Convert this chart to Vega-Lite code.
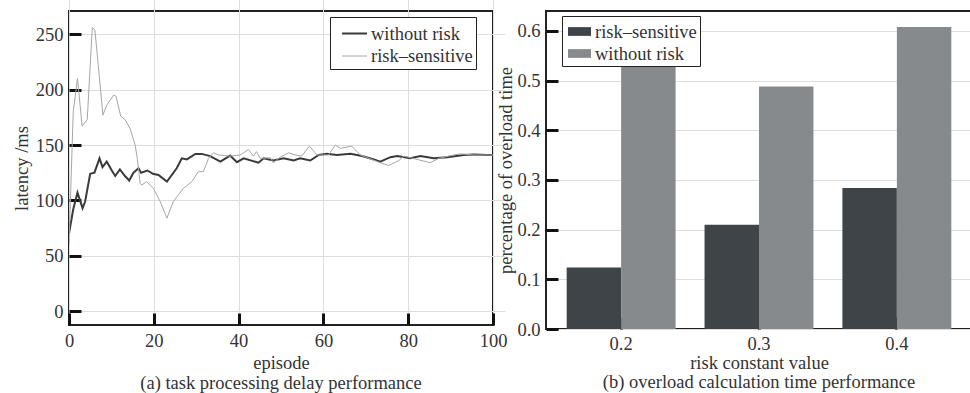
{
  "$schema": "https://vega.github.io/schema/vega-lite/v6.json",
  "padding": {"left": 11, "top": 10, "right": 0, "bottom": 0},
  "background": "white",
  "spacing": -13,
  "datasets": {
    "lines": [
      {"episode": 0, "latency": 70, "series": "without risk"},
      {"episode": 1, "latency": 92, "series": "without risk"},
      {"episode": 2, "latency": 107, "series": "without risk"},
      {"episode": 3.2, "latency": 93, "series": "without risk"},
      {"episode": 3.8, "latency": 99, "series": "without risk"},
      {"episode": 5, "latency": 124, "series": "without risk"},
      {"episode": 6, "latency": 125, "series": "without risk"},
      {"episode": 7.2, "latency": 138, "series": "without risk"},
      {"episode": 7.9, "latency": 130, "series": "without risk"},
      {"episode": 8.9, "latency": 135, "series": "without risk"},
      {"episode": 10.1, "latency": 127, "series": "without risk"},
      {"episode": 10.9, "latency": 122, "series": "without risk"},
      {"episode": 12, "latency": 128, "series": "without risk"},
      {"episode": 13.2, "latency": 122, "series": "without risk"},
      {"episode": 14.2, "latency": 118, "series": "without risk"},
      {"episode": 15.2, "latency": 125, "series": "without risk"},
      {"episode": 16.4, "latency": 129, "series": "without risk"},
      {"episode": 17, "latency": 125, "series": "without risk"},
      {"episode": 18.5, "latency": 127, "series": "without risk"},
      {"episode": 19.8, "latency": 124, "series": "without risk"},
      {"episode": 21.1, "latency": 123, "series": "without risk"},
      {"episode": 23.1, "latency": 117, "series": "without risk"},
      {"episode": 25.4, "latency": 129, "series": "without risk"},
      {"episode": 26.6, "latency": 138, "series": "without risk"},
      {"episode": 27.8, "latency": 137, "series": "without risk"},
      {"episode": 29.8, "latency": 142, "series": "without risk"},
      {"episode": 31.3, "latency": 142, "series": "without risk"},
      {"episode": 33.3, "latency": 140, "series": "without risk"},
      {"episode": 35.7, "latency": 135, "series": "without risk"},
      {"episode": 38, "latency": 140.5, "series": "without risk"},
      {"episode": 39.6, "latency": 134.5, "series": "without risk"},
      {"episode": 41.2, "latency": 138, "series": "without risk"},
      {"episode": 44.7, "latency": 134, "series": "without risk"},
      {"episode": 45.9, "latency": 138, "series": "without risk"},
      {"episode": 48.2, "latency": 136, "series": "without risk"},
      {"episode": 50.6, "latency": 138, "series": "without risk"},
      {"episode": 53, "latency": 136, "series": "without risk"},
      {"episode": 54.5, "latency": 138, "series": "without risk"},
      {"episode": 56.9, "latency": 136, "series": "without risk"},
      {"episode": 58.9, "latency": 141, "series": "without risk"},
      {"episode": 60.8, "latency": 142, "series": "without risk"},
      {"episode": 63.2, "latency": 141, "series": "without risk"},
      {"episode": 66.4, "latency": 142, "series": "without risk"},
      {"episode": 69.1, "latency": 140, "series": "without risk"},
      {"episode": 71.9, "latency": 137, "series": "without risk"},
      {"episode": 73.4, "latency": 135, "series": "without risk"},
      {"episode": 75.8, "latency": 139, "series": "without risk"},
      {"episode": 77.4, "latency": 140, "series": "without risk"},
      {"episode": 80.5, "latency": 138, "series": "without risk"},
      {"episode": 82.9, "latency": 140, "series": "without risk"},
      {"episode": 86, "latency": 138, "series": "without risk"},
      {"episode": 89.2, "latency": 139, "series": "without risk"},
      {"episode": 93.1, "latency": 141, "series": "without risk"},
      {"episode": 95.5, "latency": 141.5, "series": "without risk"},
      {"episode": 98.6, "latency": 141, "series": "without risk"},
      {"episode": 100, "latency": 141, "series": "without risk"},
      {"episode": 0, "latency": 60, "series": "risk–sensitive"},
      {"episode": 1, "latency": 180, "series": "risk–sensitive"},
      {"episode": 2, "latency": 210, "series": "risk–sensitive"},
      {"episode": 3.1, "latency": 167, "series": "risk–sensitive"},
      {"episode": 4.3, "latency": 173, "series": "risk–sensitive"},
      {"episode": 5.5, "latency": 256, "series": "risk–sensitive"},
      {"episode": 6.1, "latency": 254, "series": "risk–sensitive"},
      {"episode": 6.9, "latency": 222, "series": "risk–sensitive"},
      {"episode": 8, "latency": 177, "series": "risk–sensitive"},
      {"episode": 8.9, "latency": 186, "series": "risk–sensitive"},
      {"episode": 10.5, "latency": 195, "series": "risk–sensitive"},
      {"episode": 11.1, "latency": 194, "series": "risk–sensitive"},
      {"episode": 12.2, "latency": 176, "series": "risk–sensitive"},
      {"episode": 13.2, "latency": 173, "series": "risk–sensitive"},
      {"episode": 14.4, "latency": 165, "series": "risk–sensitive"},
      {"episode": 15.6, "latency": 150, "series": "risk–sensitive"},
      {"episode": 16.1, "latency": 138, "series": "risk–sensitive"},
      {"episode": 16.8, "latency": 115, "series": "risk–sensitive"},
      {"episode": 17.2, "latency": 114, "series": "risk–sensitive"},
      {"episode": 18.3, "latency": 117, "series": "risk–sensitive"},
      {"episode": 19.9, "latency": 111, "series": "risk–sensitive"},
      {"episode": 21.5, "latency": 99, "series": "risk–sensitive"},
      {"episode": 23.1, "latency": 84, "series": "risk–sensitive"},
      {"episode": 24.6, "latency": 99, "series": "risk–sensitive"},
      {"episode": 27, "latency": 111, "series": "risk–sensitive"},
      {"episode": 29, "latency": 117, "series": "risk–sensitive"},
      {"episode": 30.5, "latency": 126, "series": "risk–sensitive"},
      {"episode": 31.7, "latency": 126, "series": "risk–sensitive"},
      {"episode": 32.9, "latency": 138, "series": "risk–sensitive"},
      {"episode": 34.1, "latency": 143, "series": "risk–sensitive"},
      {"episode": 35.3, "latency": 141, "series": "risk–sensitive"},
      {"episode": 38, "latency": 140, "series": "risk–sensitive"},
      {"episode": 40.4, "latency": 141, "series": "risk–sensitive"},
      {"episode": 42.3, "latency": 146, "series": "risk–sensitive"},
      {"episode": 43.5, "latency": 140, "series": "risk–sensitive"},
      {"episode": 44.2, "latency": 144, "series": "risk–sensitive"},
      {"episode": 45.1, "latency": 138, "series": "risk–sensitive"},
      {"episode": 47.5, "latency": 138.5, "series": "risk–sensitive"},
      {"episode": 48.2, "latency": 134, "series": "risk–sensitive"},
      {"episode": 49.8, "latency": 139, "series": "risk–sensitive"},
      {"episode": 51.8, "latency": 143, "series": "risk–sensitive"},
      {"episode": 53.4, "latency": 141, "series": "risk–sensitive"},
      {"episode": 54.9, "latency": 140, "series": "risk–sensitive"},
      {"episode": 56.7, "latency": 149, "series": "risk–sensitive"},
      {"episode": 58.5, "latency": 141, "series": "risk–sensitive"},
      {"episode": 61.2, "latency": 141, "series": "risk–sensitive"},
      {"episode": 62.8, "latency": 150, "series": "risk–sensitive"},
      {"episode": 64, "latency": 147, "series": "risk–sensitive"},
      {"episode": 66.7, "latency": 149, "series": "risk–sensitive"},
      {"episode": 68.7, "latency": 141, "series": "risk–sensitive"},
      {"episode": 73.4, "latency": 134, "series": "risk–sensitive"},
      {"episode": 75.4, "latency": 131.5, "series": "risk–sensitive"},
      {"episode": 77.8, "latency": 136, "series": "risk–sensitive"},
      {"episode": 79, "latency": 140, "series": "risk–sensitive"},
      {"episode": 85.2, "latency": 134, "series": "risk–sensitive"},
      {"episode": 87.2, "latency": 138, "series": "risk–sensitive"},
      {"episode": 90.7, "latency": 141, "series": "risk–sensitive"},
      {"episode": 92.3, "latency": 142, "series": "risk–sensitive"},
      {"episode": 95.5, "latency": 141, "series": "risk–sensitive"},
      {"episode": 98.2, "latency": 141, "series": "risk–sensitive"},
      {"episode": 100, "latency": 141, "series": "risk–sensitive"}
    ],
    "bars": [
      {"risk": "0.2", "series": "risk–sensitive", "value": 0.124},
      {"risk": "0.2", "series": "without risk", "value": 0.528},
      {"risk": "0.3", "series": "risk–sensitive", "value": 0.21},
      {"risk": "0.3", "series": "without risk", "value": 0.488},
      {"risk": "0.4", "series": "risk–sensitive", "value": 0.284},
      {"risk": "0.4", "series": "without risk", "value": 0.608}
    ]
  },
  "hconcat": [
    {
      "width": 424,
      "height": 314,
      "title": {"text": "(a) task processing delay performance", "orient": "bottom", "offset": 2},
      "data": {"name": "lines"},
      "mark": {"type": "line", "clip": true},
      "encoding": {
        "x": {"field": "episode", "type": "quantitative",
          "scale": {"domain": [0, 100], "nice": false, "zero": false},
          "axis": {"title": "episode", "values": [0, 20, 40, 60, 80, 100],
            "encode": {"ticks": {"update": {"stroke": {"value": "#111111"}, "strokeWidth": {"value": 3}, "strokeOpacity": {"value": 1}, "opacity": {"value": 1}}}}}},
        "y": {"field": "latency", "type": "quantitative",
          "scale": {"domain": [-12.5, 271], "nice": false, "zero": false},
          "axis": {"title": "latency /ms", "values": [0, 50, 100, 150, 200, 250],
            "encode": {"ticks": {"update": {"stroke": {"value": "#111111"}, "strokeWidth": {"value": 3}, "strokeOpacity": {"value": 1}, "opacity": {"value": 1}}}}}},
        "color": {"field": "series", "type": "nominal",
          "scale": {"domain": ["without risk", "risk–sensitive"], "range": ["#3a3a3a", "#a6a6a6"]},
          "legend": {"title": null, "orient": "none", "legendX": 261, "legendY": 6, "symbolType": "stroke", "symbolSize": 625, "symbolOffset": 8, "padding": 3, "rowPadding": -8}},
        "strokeWidth": {"field": "series", "type": "nominal",
          "scale": {"domain": ["without risk", "risk–sensitive"], "range": [2, 1]},
          "legend": null}
      }
    },
    {
      "width": 426,
      "height": 318,
      "title": {"text": "(b) overload calculation time performance", "orient": "bottom", "offset": 1},
      "data": {"name": "bars"},
      "mark": {"type": "bar"},
      "encoding": {
        "x": {"field": "risk", "type": "nominal",
          "scale": {"paddingInner": 0.21, "paddingOuter": 0.15},
          "axis": {"title": "risk constant value", "labelAngle": 0, "titlePadding": 1, "labelPadding": 5,
            "encode": {"ticks": {"update": {"stroke": {"value": "#111111"}, "strokeWidth": {"value": 3}, "strokeOpacity": {"value": 1}, "opacity": {"value": 1}}}}}},
        "xOffset": {"field": "series", "type": "nominal",
          "scale": {"domain": ["risk–sensitive", "without risk"], "paddingInner": 0, "paddingOuter": 0}},
        "y": {"field": "value", "type": "quantitative",
          "scale": {"domain": [0, 0.64], "nice": false},
          "axis": {"title": "percentage of overload time", "titlePadding": 1, "values": [0, 0.1, 0.2, 0.3, 0.4, 0.5, 0.6],
            "encode": {"ticks": {"update": {"stroke": {"value": "#111111"}, "strokeWidth": {"value": 3}, "strokeOpacity": {"value": 1}, "opacity": {"value": 1}}}}}},
        "color": {"field": "series", "type": "nominal",
          "scale": {"domain": ["risk–sensitive", "without risk"], "range": ["#3e4447", "#878a8d"]},
          "legend": {"title": null, "orient": "none", "legendX": 16, "legendY": 5, "symbolType": "M-1,-0.38L1,-0.38L1,0.38L-1,0.38Z", "symbolSize": 529, "symbolOffset": 2, "padding": 3, "rowPadding": -7}}
      }
    }
  ],
  "resolve": {"scale": {"color": "independent", "strokeWidth": "independent"}, "legend": {"color": "independent"}},
  "config": {
    "font": "Liberation Serif",
    "view": {"stroke": "#222", "strokeWidth": 2},
    "axis": {
      "domainColor": "#222", "domainWidth": 0.01, "domainOpacity": 0, "zindex": 1,
      "ticks": true, "tickColor": "#111111", "tickWidth": 3, "tickSize": 12, "tickOpacity": 1, "offset": -12,
      "labelFont": "Liberation Serif", "labelFontSize": 18.5, "labelColor": "#333", "labelPadding": 6, "labelFlush": false,
      "titleFont": "Liberation Serif", "titleFontSize": 18.5, "titleFontWeight": "normal", "titleColor": "#333", "titlePadding": 4
    },
    "axisBand": {"ticks": true, "tickColor": "#111111", "tickWidth": 3, "tickSize": 12},
    "legend": {
      "labelFont": "Liberation Serif", "labelFontSize": 18.5, "labelColor": "#333",
      "strokeColor": "#222", "fillColor": "white", "labelOffset": 3, "labelLimit": 300
    },
    "title": {"font": "Liberation Serif", "fontSize": 18.5, "fontWeight": "normal", "color": "#333", "anchor": "middle"}
  }
}
